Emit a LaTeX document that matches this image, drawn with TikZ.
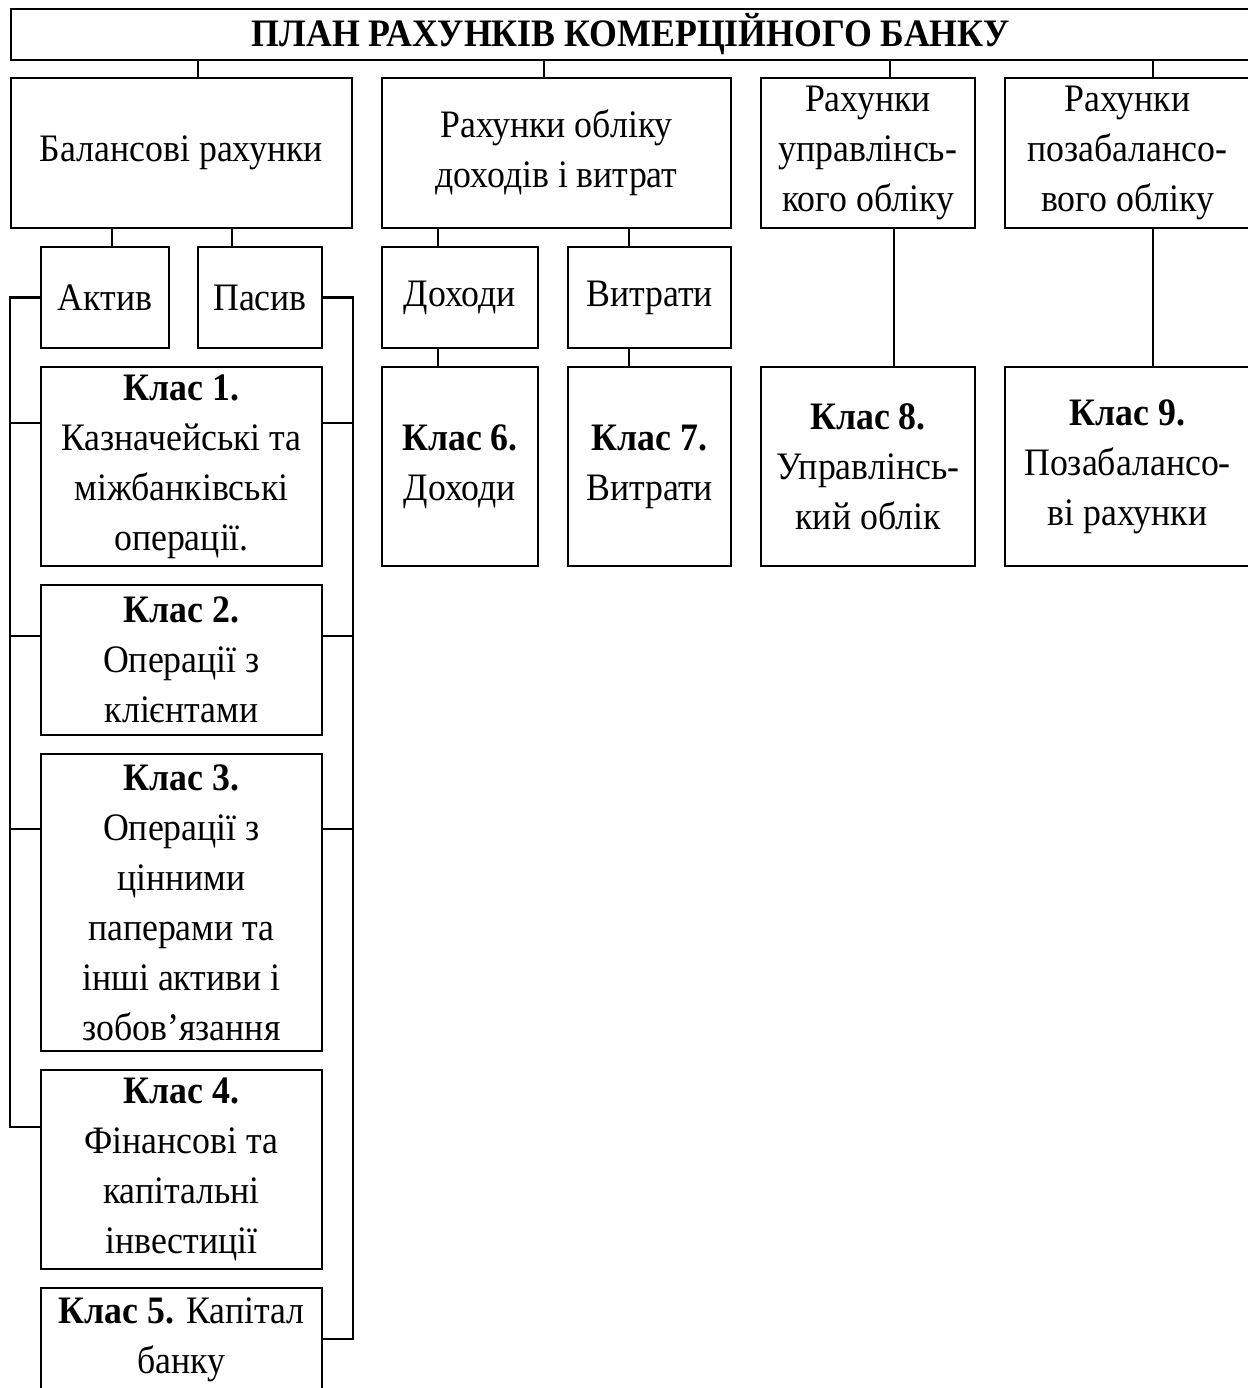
\documentclass[tikz,border=0pt]{standalone}
\usepackage{fontspec}
\setmainfont[FakeStretch=0.92]{Liberation Serif}

\begin{document}
\begin{tikzpicture}[x=0.36pt,y=-0.36pt,line width=0.75pt,
  box/.style 2 args={draw,line width=0.75pt,inner sep=0pt,align=center,
    minimum width=#1*0.36pt,minimum height=#2*0.36pt,
    font=\fontsize{14}{18}\selectfont}]
\useasboundingbox (0,0) rectangle (1247,1388);

\node[box={1239}{51}] (title) at (630.5,34.5) {\textbf{ПЛАН РАХУНКІВ КОМЕРЦІЙНОГО БАНКУ}};

\node[box={341}{150}] (bal) at (181.5,153) {Балансові рахунки};
\node[box={349}{150}] (inc) at (556.5,153) {Рахунки обліку\\доходів і витрат};
\node[box={214}{150}] (upr) at (868,153) {Рахунки\\управлінсь-\\кого обліку};
\node[box={245}{150}] (poza) at (1127.5,153) {Рахунки\\позабалансо-\\вого обліку};

\node[box={128}{101}] (aktiv) at (105,297.5) {Актив};
\node[box={124}{101}] (pasyv) at (260,297.5) {Пасив};
\node[box={156}{101}] (doh) at (460,297.5) {Доходи};
\node[box={163}{101}] (vytr) at (649.5,297.5) {Витрати};

\node[box={281}{199}] (k1) at (181.5,466.5) {\textbf{Клас 1.}\\Казначейські та\\міжбанківські\\операції.};
\node[box={281}{150}] (k2) at (181.5,660) {\textbf{Клас 2.}\\Операції з\\клієнтами};
\node[box={281}{297}] (k3) at (181.5,902.5) {\textbf{Клас 3.}\\Операції з\\цінними\\паперами та\\інші активи і\\зобов’язання};
\node[box={281}{199}] (k4) at (181.5,1169.5) {\textbf{Клас 4.}\\Фінансові та\\капітальні\\інвестиції};
\node[box={281}{104}] (k5) at (181.5,1340) {\textbf{Клас 5.} Капітал\\банку};

\node[box={156}{199}] (k6) at (460,466.5) {\textbf{Клас 6.}\\Доходи};
\node[box={163}{199}] (k7) at (649.5,466.5) {\textbf{Клас 7.}\\Витрати};
\node[box={214}{199}] (k8) at (868,466.5) {\textbf{Клас 8.}\\Управлінсь-\\кий облік};
\node[box={245}{199}] (k9) at (1127.5,466.5) {\textbf{Клас 9.}\\Позабалансо-\\ві рахунки};

\foreach \b/\x in {bal/198,inc/544,upr/890,poza/1153}
  \draw (title.south -| \x,0) -- (\b.north -| \x,0);
\foreach \a/\b/\x in {bal/aktiv/112,bal/pasyv/232,inc/doh/438,inc/vytr/629,doh/k6/438,vytr/k7/629,upr/k8/894,poza/k9/1153}
  \draw (\a.south -| \x,0) -- (\b.north -| \x,0);

\draw (aktiv.west) -- ++(-30,0) |- (k4.west |- 0,1127);
\draw (pasyv.east) -- ++(30,0) |- (k5.east |- 0,1339);
\foreach \k/\y in {k1/423,k2/636,k3/829} {
  \draw (\k.west |- 0,\y) -- ++(-30,0);
  \draw (\k.east |- 0,\y) -- ++(30,0);
}
\end{tikzpicture}
\end{document}
